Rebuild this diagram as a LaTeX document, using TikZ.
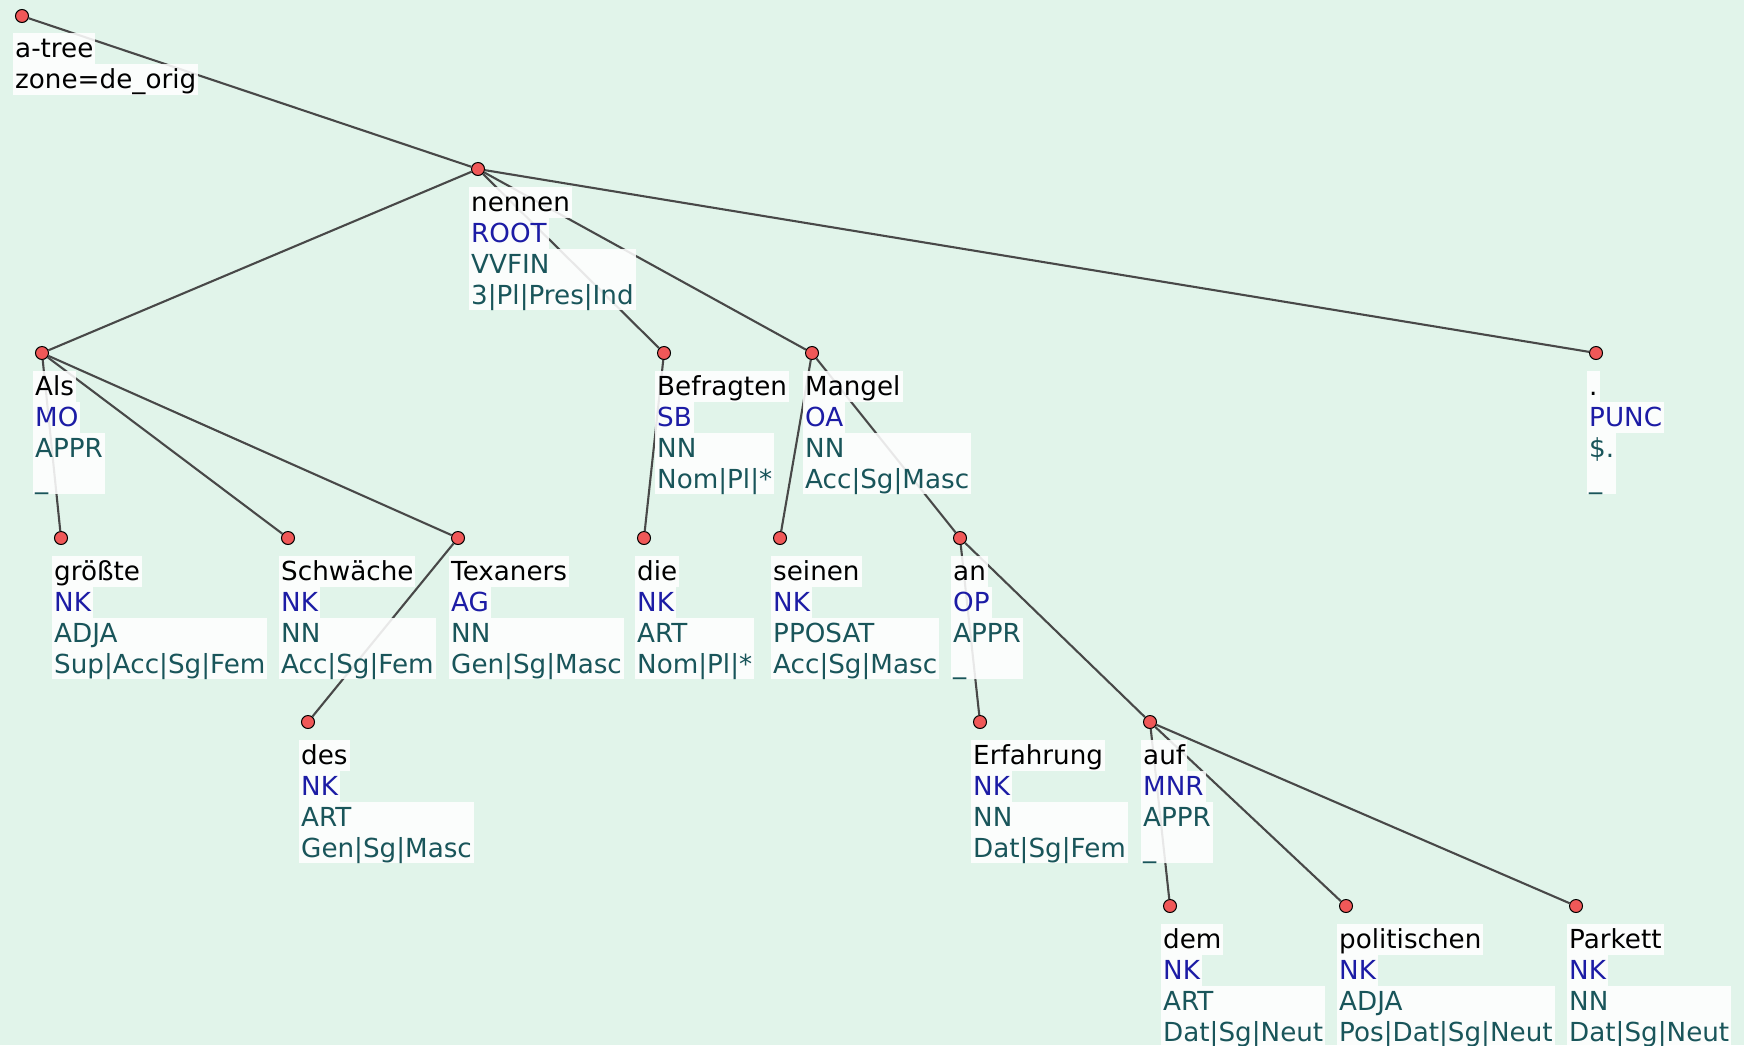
\documentclass[tikz,border=0pt]{standalone}
\usepackage{fontspec}
\setmainfont{DejaVu Sans}
\usepackage{tikz}

\definecolor{bgmint}{RGB}{225,244,234}
\definecolor{dotred}{RGB}{240,88,88}
\definecolor{edgegray}{RGB}{72,72,72}
\definecolor{afunblue}{RGB}{28,28,165}
\definecolor{tagteal}{RGB}{25,85,90}

\newcommand\lstrut{\rule[-6pt]{0pt}{30.5pt}}
\newcommand\labelfont{\fontsize{26.2}{30.5}\selectfont}

\tikzset{
  vertex/.style={circle, fill=dotred, draw=black, line width=1pt, minimum size=13pt, inner sep=0pt},
  treeedge/.style={draw=edgegray, line width=2.1pt},
  linebox/.style={fill=white, fill opacity=0.88, text opacity=1, anchor=north west,
    inner xsep=2pt, inner ysep=0pt, text height=24.5pt, text depth=6pt, font=\labelfont},
  wordline/.style={linebox, text=black},
  afunline/.style={linebox, text=afunblue},
  tagline/.style={fill=white, fill opacity=0.88, text opacity=1, anchor=north west,
    inner xsep=2pt, inner ysep=0pt, text=tagteal, font=\labelfont}
}

% one label stack under a vertex: word, afun, tag + feats
\newcommand\tokenlabel[5]{%
  \node[wordline] (#1-w) at ([shift={(-9,18)}]#1.center) {#2};
  \node[afunline] (#1-a) at (#1-w.south west) {#3};
  \node[tagline] (#1-t) at (#1-a.south west) {\vbox{\hbox{\lstrut #4}\hbox{\lstrut #5}}};
}

\begin{document}
\begin{tikzpicture}[x=1pt,y=-1pt]
\fill[bgmint] (0,0) rectangle (1744,1045);
\useasboundingbox (0,0) rectangle (1744,1045);
% draws vertices
\node[vertex] (atree) at (22,16) {};
\node[vertex] (nennen) at (478,169) {};
\node[vertex] (als) at (42,353) {};
\node[vertex] (befragten) at (664,353) {};
\node[vertex] (mangel) at (812,353) {};
\node[vertex] (punc) at (1596,353) {};
\node[vertex] (groesste) at (61,538) {};
\node[vertex] (schwaeche) at (288,538) {};
\node[vertex] (texaners) at (458,538) {};
\node[vertex] (die) at (644,538) {};
\node[vertex] (seinen) at (780,538) {};
\node[vertex] (an) at (960,538) {};
\node[vertex] (des) at (308,722) {};
\node[vertex] (erfahrung) at (980,722) {};
\node[vertex] (auf) at (1150,722) {};
\node[vertex] (dem) at (1170,906) {};
\node[vertex] (politischen) at (1346,906) {};
\node[vertex] (parkett) at (1576,906) {};
% draws edges
\begin{scope}[treeedge]
\draw (atree) -- (nennen);
\draw (nennen) -- (als);
\draw (nennen) -- (befragten);
\draw (nennen) -- (mangel);
\draw (nennen) -- (punc);
\draw (als) -- (groesste);
\draw (als) -- (schwaeche);
\draw (als) -- (texaners);
\draw (texaners) -- (des);
\draw (befragten) -- (die);
\draw (mangel) -- (seinen);
\draw (mangel) -- (an);
\draw (an) -- (erfahrung);
\draw (an) -- (auf);
\draw (auf) -- (dem);
\draw (auf) -- (politischen);
\draw (auf) -- (parkett);
\end{scope}
% labels vertices
\node[wordline] (atree-w) at ([shift={(-9,17)}]atree.center) {a-tree};
\node[wordline] (atree-z) at (atree-w.south west) {zone=de\_orig};
\tokenlabel{nennen}{nennen}{ROOT}{VVFIN}{3|Pl|Pres|Ind}
\tokenlabel{als}{Als}{MO}{APPR}{\_}
\tokenlabel{befragten}{Befragten}{SB}{NN}{Nom|Pl|*}
\tokenlabel{mangel}{Mangel}{OA}{NN}{Acc|Sg|Masc}
\tokenlabel{punc}{.}{PUNC}{\$.}{\_}
\tokenlabel{groesste}{größte}{NK}{ADJA}{Sup|Acc|Sg|Fem}
\tokenlabel{schwaeche}{Schwäche}{NK}{NN}{Acc|Sg|Fem}
\tokenlabel{texaners}{Texaners}{AG}{NN}{Gen|Sg|Masc}
\tokenlabel{die}{die}{NK}{ART}{Nom|Pl|*}
\tokenlabel{seinen}{seinen}{NK}{PPOSAT}{Acc|Sg|Masc}
\tokenlabel{an}{an}{OP}{APPR}{\_}
\tokenlabel{des}{des}{NK}{ART}{Gen|Sg|Masc}
\tokenlabel{erfahrung}{Erfahrung}{NK}{NN}{Dat|Sg|Fem}
\tokenlabel{auf}{auf}{MNR}{APPR}{\_}
\tokenlabel{dem}{dem}{NK}{ART}{Dat|Sg|Neut}
\tokenlabel{politischen}{politischen}{NK}{ADJA}{Pos|Dat|Sg|Neut}
\tokenlabel{parkett}{Parkett}{NK}{NN}{Dat|Sg|Neut}
\end{tikzpicture}
\end{document}
